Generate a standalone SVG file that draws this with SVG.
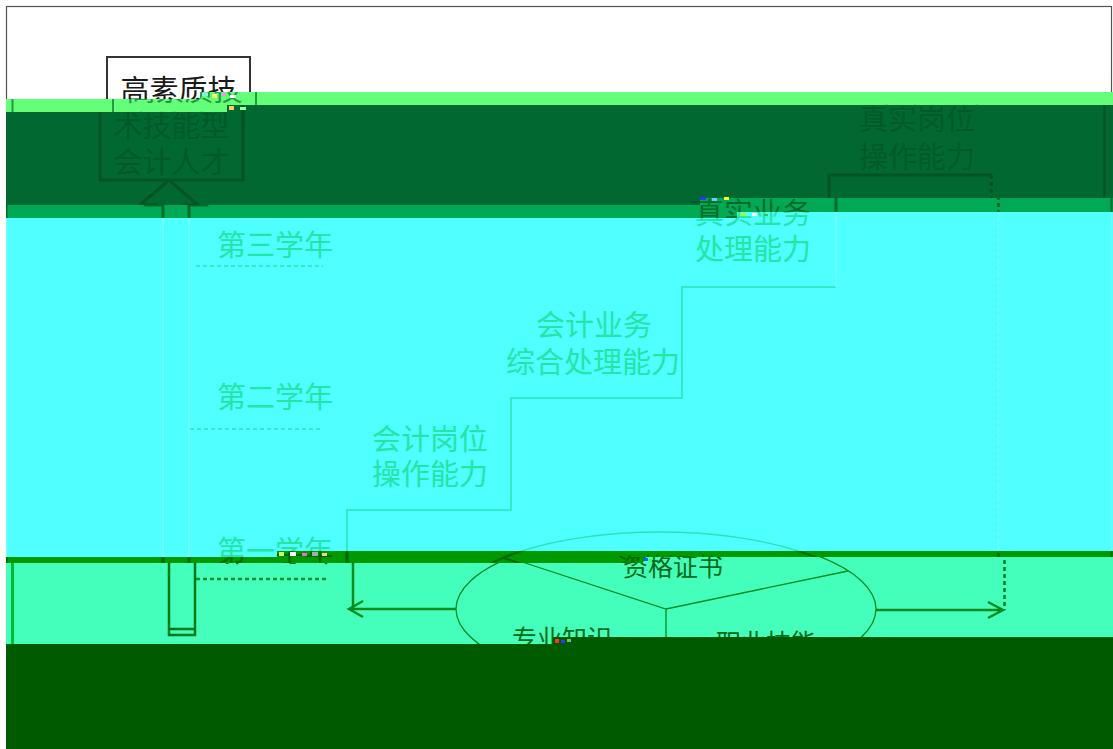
<svg xmlns="http://www.w3.org/2000/svg" xmlns:xlink="http://www.w3.org/1999/xlink" width="1113" height="749" viewBox="0 0 1113 749">
<defs>
<style>
.tx{font-family:"Noto Sans CJK SC","Noto Sans CJK JP",sans-serif;font-size:29px;fill:var(--t);text-anchor:middle;dominant-baseline:central}
.sm{font-size:25px}
.ln{fill:none;stroke:var(--l);stroke-width:var(--w)}
.l2{fill:none;stroke:var(--l2);stroke-width:var(--w)}
.th{fill:none;stroke:var(--l);stroke-width:var(--tw)}
.ds{stroke-dasharray:4 3}
.fr{fill:none;stroke:var(--f);stroke-width:var(--fw)}
.bW{--t:#1a1a1a;--l:#333;--l2:#333;--w:2;--tw:1.3;--f:#555;--fw:1.2}
.bA{--t:#1f9c3f;--l:#1f9c3f;--l2:#1f9c3f;--w:2;--tw:1.5;--f:#1f9c3f;--fw:2}
.bB{--t:#005a28;--l:#005424;--l2:#005424;--w:3;--tw:2;--f:#005424;--fw:2.5}
.bC{--t:#006a2c;--l:#006a2c;--l2:#006a2c;--w:3;--tw:2;--f:#006a2c;--fw:2}
.bD{--t:#22e6a4;--l:#24e6b0;--l2:#78ffff;--w:1.5;--tw:1.3;--f:#78ffff;--fw:1.5}
.bE{--t:#006600;--l:#006600;--l2:#006600;--w:3;--tw:2;--f:#006600;--fw:2}
.bF{--t:#006a14;--l:#008c1c;--l2:#007a16;--w:2.5;--tw:1.3;--f:#00bb33;--fw:3}
</style>
<clipPath id="cW"><polygon points="0,0 1113,0 1113,92 200,92 200,99 0,99"/></clipPath>
<clipPath id="cA"><polygon points="6,99 200,99 200,92 1113,92 1113,105 227,105 227,112 6,112"/></clipPath>
<clipPath id="cB"><polygon points="6,112 227,112 227,105 1113,105 1113,198 700,198 700,205 6,205"/></clipPath>
<clipPath id="cC"><polygon points="6,205 700,205 700,198 1113,198 1113,212 737,212 737,218 6,218"/></clipPath>
<clipPath id="cD"><polygon points="6,218 737,218 737,212 1113,212 1113,551 277,551 277,557 6,557"/></clipPath>
<clipPath id="cE"><polygon points="6,557 277,557 277,551 1113,551 1113,557 643,557 643,563 6,563"/></clipPath>
<clipPath id="cF"><polygon points="6,563 643,563 643,557 1113,557 1113,637 553,637 553,644 6,644"/></clipPath>
<g id="diagram">
  <rect id="frame" class="fr" x="6.5" y="6.5" width="1105" height="760"/>
  <g id="node-talent">
    <rect class="ln" x="107" y="57" width="143" height="123"/>
    <text class="tx" x="178.5" y="88">高素质技</text>
    <text class="tx" x="178.5" y="124">术技能型</text>
    <text class="tx" x="178.5" y="160">会计人才</text>
  </g>
  <g id="node-year3"><text class="tx" x="275" y="243">第三学年</text></g>
  <g id="node-year2"><text class="tx" x="275" y="395">第二学年</text></g>
  <g id="node-year1"><text class="tx" x="275" y="549">第一学年</text></g>
  <g id="node-step1"><text class="tx" x="430" y="437">会计岗位</text><text class="tx" x="430" y="472">操作能力</text></g>
  <g id="node-step2"><text class="tx" x="594" y="323">会计业务</text><text class="tx" x="593" y="360">综合处理能力</text></g>
  <g id="node-step3"><text class="tx" x="753" y="211">真实业务</text><text class="tx" x="753" y="247">处理能力</text></g>
  <g id="node-step4"><text class="tx" x="924" y="117">真实岗位</text><text class="tx" x="924" y="155">操作能力</text></g>
  <g id="node-base">
    <ellipse class="th" cx="660" cy="609" rx="210" ry="77"/>
    <path class="th" d="M504,558 L660,609 L842,571 M660,609 V686"/>
    <text class="tx sm" x="667" y="565">资格证书</text>
    <text class="tx sm" x="556" y="637">专业知识</text>
    <text class="tx sm" x="760" y="641">职业技能</text>
  </g>
  <g id="connectors">
    <path class="l2" d="M163,635 V205 H147 L176,180 L205,205 H189 V635 Z M163,629 H189"/>
    <path class="ln ds" d="M196,266 H323 M190,429 H323 M190,579 H322"/>
    <path class="ln" d="M347,609 V510 H511 V398 H682 V287 H836"/>
    <path class="l2" d="M836,287 V175 H999"/>
    <path class="l2 ds" d="M998.5,175 V610"/>
    <path class="ln" d="M450,609 H343 M357,601 L343,609 L357,617"/>
    <path class="ln" d="M870,610 H997 M982,602 L997,610 L982,618"/>
  </g>
</g>
</defs>
<rect width="1113" height="749" fill="#ffffff"/>
<g id="bands">
  <polygon fill="#64ff78" points="6,99 200,99 200,92 1113,92 1113,105 227,105 227,112 6,112"/>
  <polygon fill="#006830" points="6,112 227,112 227,105 1113,105 1113,198 700,198 700,205 6,205"/>
  <polygon fill="#00aa55" points="6,205 700,205 700,198 1113,198 1113,212 737,212 737,218 6,218"/>
  <polygon fill="#50ffff" points="6,218 737,218 737,212 1113,212 1113,551 277,551 277,557 6,557"/>
  <polygon fill="#009900" points="6,557 277,557 277,551 1113,551 1113,557 643,557 643,563 6,563"/>
  <polygon fill="#44ffbb" points="6,563 643,563 643,557 1113,557 1113,637 553,637 553,644 6,644"/>
  <polygon fill="#005a00" points="6,644 553,644 553,637 1113,637 1113,749 6,749"/>
</g>
<g clip-path="url(#cW)"><use xlink:href="#diagram" class="bW"/></g>
<g clip-path="url(#cA)"><use xlink:href="#diagram" class="bA" transform="translate(6,0)"/></g>
<g clip-path="url(#cB)"><use xlink:href="#diagram" class="bB" transform="translate(-7,0)"/></g>
<g clip-path="url(#cC)"><use xlink:href="#diagram" class="bC"/></g>
<g clip-path="url(#cD)"><use xlink:href="#diagram" class="bD"/></g>
<g clip-path="url(#cE)"><use xlink:href="#diagram" class="bE"/></g>
<g clip-path="url(#cF)"><use xlink:href="#diagram" class="bF" transform="translate(6,0)"/></g>
<g id="glitch">
  <rect x="202" y="93" width="6" height="3" fill="#8fd"/><rect x="212" y="94" width="5" height="4" fill="#ff6"/><rect x="222" y="93" width="4" height="3" fill="#f8f"/><rect x="230" y="95" width="6" height="3" fill="#fff"/>
  <rect x="229" y="106" width="5" height="4" fill="#fc6"/><rect x="240" y="107" width="6" height="3" fill="#9f9"/>
  <rect x="700" y="197" width="6" height="3" fill="#33f"/><rect x="712" y="198" width="5" height="3" fill="#6cf"/><rect x="724" y="197" width="5" height="3" fill="#ff3"/>
  <rect x="740" y="213" width="6" height="3" fill="#9f3"/><rect x="752" y="213" width="5" height="3" fill="#fff"/><rect x="764" y="214" width="4" height="2" fill="#3c3"/>
  <rect x="279" y="552" width="5" height="4" fill="#cf6"/><rect x="290" y="552" width="6" height="4" fill="#fff"/><rect x="302" y="553" width="5" height="3" fill="#f6c"/><rect x="312" y="552" width="6" height="4" fill="#aaa"/><rect x="322" y="553" width="5" height="3" fill="#fc9"/>
  <rect x="644" y="558" width="4" height="3" fill="#06f"/><rect x="649" y="559" width="3" height="3" fill="#3f6"/>
  <rect x="555" y="639" width="4" height="4" fill="#f33"/><rect x="561" y="640" width="4" height="3" fill="#33f"/><rect x="567" y="639" width="4" height="3" fill="#6c6"/>
</g>
</svg>
